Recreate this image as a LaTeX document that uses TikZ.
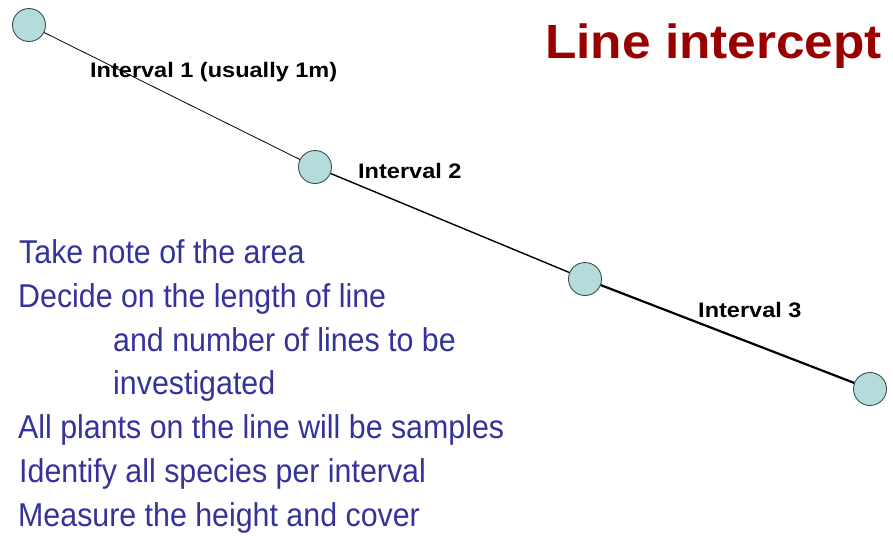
\documentclass[tikz,border=0pt]{standalone}
\usepackage{fontspec}
\setmainfont{Liberation Sans}
\newfontfamily\widefont[FakeStretch=1.12]{Liberation Sans}
\newfontfamily\titlefont[FakeStretch=1.07]{Liberation Sans}
\newfontfamily\notefont[FakeStretch=0.92]{Liberation Sans}
\definecolor{darkred}{HTML}{990000}
\definecolor{noteblue}{HTML}{333399}
\definecolor{pegfill}{HTML}{B4DCDC}
\definecolor{pegline}{HTML}{3A4F50}
\tikzset{peg/.style={circle,draw=pegline,fill=pegfill,line width=0.9pt,minimum size=33pt,inner sep=0pt},
  ilabel/.style={anchor=base west,inner sep=0pt,font=\widefont\bfseries\fontsize{21}{24}\selectfont},
  note/.style={anchor=base west,inner sep=0pt,text=noteblue,font=\notefont\fontsize{33}{36}\selectfont}}

\begin{document}
\begin{tikzpicture}[x=1pt,y=-1pt]
\useasboundingbox (0,0) rectangle (893,539);
\node[peg] (p1) at (29,25) {};
\node[peg] (p2) at (315,167) {};
\node[peg] (p3) at (585,279) {};
\node[peg] (p4) at (870,389) {};
\draw[line width=0.8pt] (p1)--(p2);
\draw[line width=1.4pt] (p2)--(p3);
\draw[line width=2.2pt] (p3)--(p4);
\node[ilabel] (int1) at (90,77) {Interval 1 (usually 1m)};
\node[ilabel] (int2) at (358,178) {Interval 2};
\node[ilabel] (int3) at (698,317) {Interval 3};
\node[anchor=base west,inner sep=0pt,text=darkred,font=\titlefont\bfseries\fontsize{48}{54}\selectfont] (title) at (545,58) {Line intercept};
% steps of the method
\node[note] (s1) at (19,263) {Take note of the area};
\node[note] (s2) at (18,307) {Decide on the length of line};
\node[note] (s3) at (113,351) {and number of lines to be};
\node[note] (s4) at (113,394) {investigated};
\node[note] (s5) at (18,438) {All plants on the line will be samples};
\node[note] (s6) at (19,482) {Identify all species per interval};
\node[note] (s7) at (18,526) {Measure the height and cover};
\end{tikzpicture}
\end{document}
